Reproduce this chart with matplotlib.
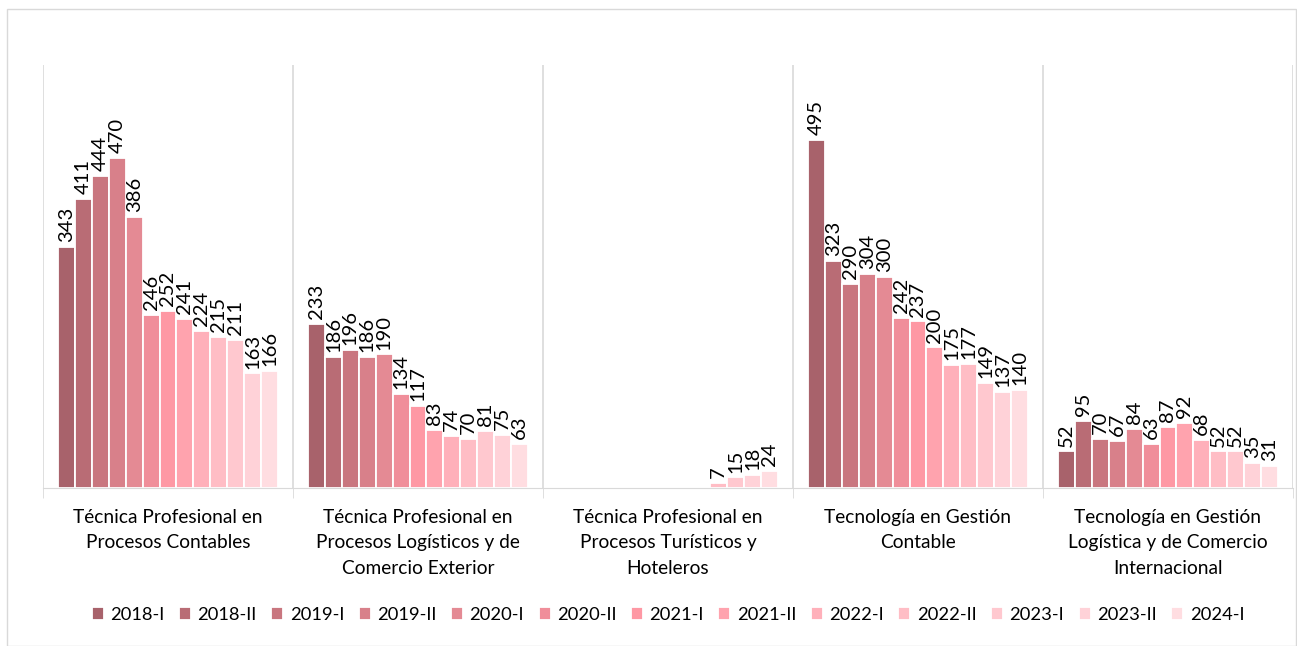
import numpy as np
import matplotlib.pyplot as plt
from matplotlib.patches import Rectangle

plt.rcParams['font.family'] = ['Lato', 'DejaVu Sans']

categories = ['Técnica Profesional en\nProcesos Contables',
              'Técnica Profesional en\nProcesos Logísticos y de\nComercio Exterior',
              'Técnica Profesional en\nProcesos Turísticos y\nHoteleros',
              'Tecnología en Gestión\nContable',
              'Tecnología en Gestión\nLogística y de Comercio\nInternacional']
periods = ['2018-I', '2018-II', '2019-I', '2019-II', '2020-I', '2020-II', '2021-I',
           '2021-II', '2022-I', '2022-II', '2023-I', '2023-II', '2024-I']
nan = np.nan
values = np.array([
    [343, 411, 444, 470, 386, 246, 252, 241, 224, 215, 211, 163, 166],
    [233, 186, 196, 186, 190, 134, 117, 83, 74, 70, 81, 75, 63],
    [nan, nan, nan, nan, nan, nan, nan, nan, nan, 7, 15, 18, 24],
    [495, 323, 290, 304, 300, 242, 237, 200, 175, 177, 149, 137, 140],
    [52, 95, 70, 67, 84, 63, 87, 92, 68, 52, 52, 35, 31],
])
colors = ['#A8626B', '#B96C75', '#C9767F', '#D8808A', '#E48A94', '#F08E9A', '#FE98A4',
          '#FFA3AE', '#FFB0BA', '#FFBDC5', '#FFC8CF', '#FFD2D8', '#FFDDE1']

fig = plt.figure(figsize=(12.97, 6.46), dpi=100)
ax = fig.add_axes([43/1297, 1-488/646, 1250/1297, 423/646])
fig.patches.append(Rectangle((7/1297, 0), 1289/1297, 1-9/646, transform=fig.transFigure,
                             fill=False, edgecolor='#D9D9D9', lw=1))

n = len(periods)
step = 0.88 / n
x = np.arange(len(categories))
for j in range(n):
    pos = x - 0.44 + step * (j + 0.5)
    bars = ax.bar(pos, values[:, j], width=step, color=colors[j], edgecolor='white',
                  linewidth=1.3, label=periods[j])
    for xp, v in zip(pos, values[:, j]):
        if not np.isnan(v):
            ax.text(xp, v + 7, '%d' % v, rotation=90, ha='center', va='bottom', fontsize=14.5)

ax.set_xlim(-0.5, len(categories) - 0.5)
ax.set_ylim(0, 602)
ax.set_yticks([])
for s in ['top', 'right', 'left']:
    ax.spines[s].set_visible(False)
ax.spines['bottom'].set_color('#D9D9D9')
for b in np.arange(-0.5, len(categories), 1):
    ax.axvline(b, color='#D9D9D9', lw=1.2)
ax.set_xticks(np.arange(-0.5, len(categories), 1), minor=True)
ax.tick_params(axis='x', which='minor', length=7, color='#D9D9D9')
ax.set_xticks(x)
ax.set_xticklabels(categories, fontsize=13.8, linespacing=1.6)
ax.tick_params(axis='x', which='major', length=0, pad=15)

ax.legend(loc='center', bbox_to_anchor=(0.5, -0.3), ncol=n, frameon=False, fontsize=13.2,
          handlelength=0.65, handleheight=0.65, handletextpad=0.35, columnspacing=0.8)

fig.savefig('out.png', dpi=100)
